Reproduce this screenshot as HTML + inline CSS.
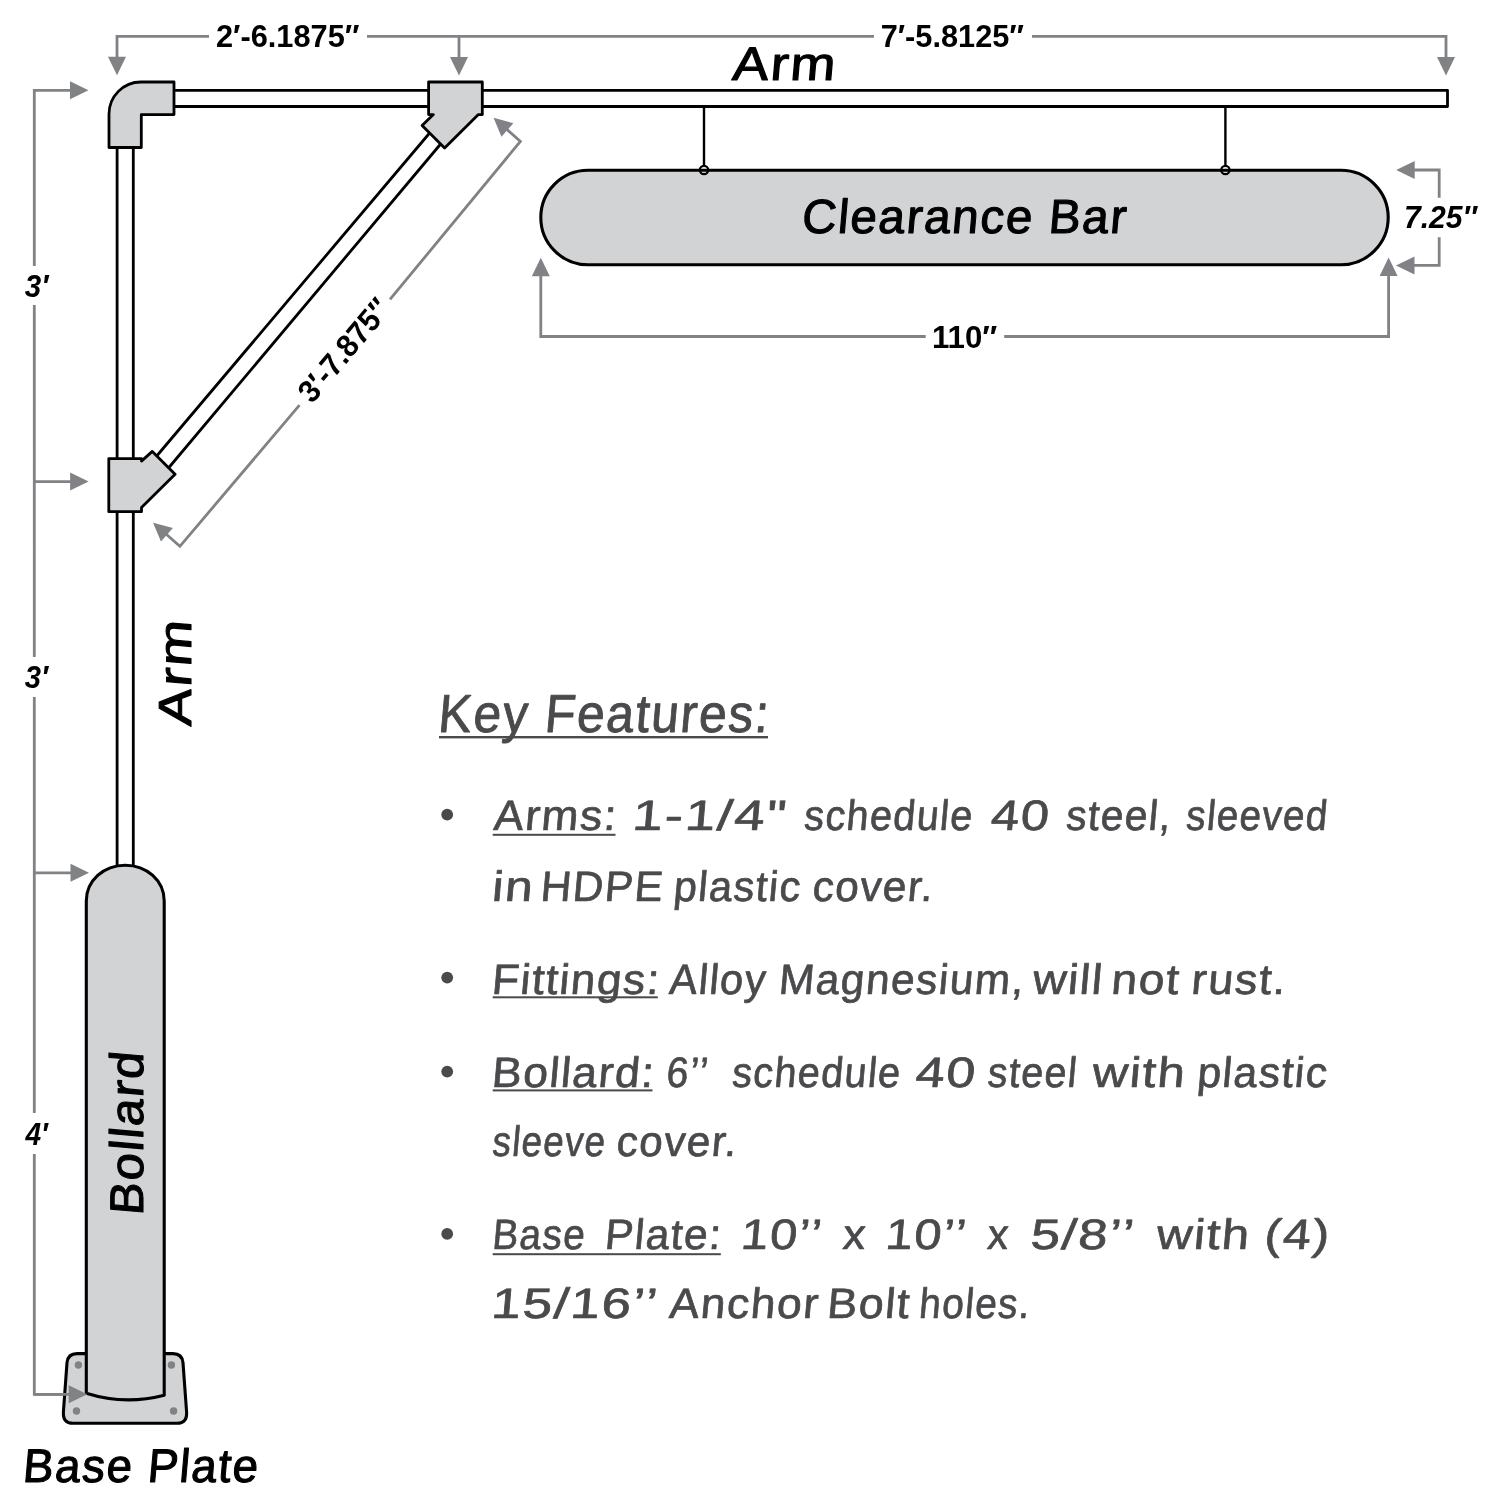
<!DOCTYPE html>
<html><head><meta charset="utf-8"><style>
html,body{margin:0;padding:0;background:#fff;}
svg{display:block;will-change:transform;font-family:"Liberation Sans", sans-serif;}
</style></head><body>
<svg width="1500" height="1500" viewBox="0 0 1500 1500">
<rect width="1500" height="1500" fill="#fff"/>
<path d="M117 58 V36.3 H209 M367 36.3 H874 M1032 36.3 H1446 V58 M459 36.3 V58M72 90.3 H34.3 V266 M34.3 305 V657 M34.3 697 V1113 M34.3 1154 V1394.3 H70 M34.3 481.6 H72 M34.3 872.8 H72M540.8 275 V336.5 H925.7 M1004.2 336.5 H1388.6 V275M1413 170 H1439.2 V197.7 M1439.2 237.2 V265.4 H1413M506 128.6 L520.4 141.4 L390 299.4 M299.5 405.2 L179.9 546.3 L166 534" stroke="#808285" stroke-width="2.8" fill="none"/>
<polygon points="0,0 -18.5,-9.0 -18.5,9.0" fill="#808285" transform="translate(117.00,75.30) rotate(90.000)"/><polygon points="0,0 -18.5,-9.0 -18.5,9.0" fill="#808285" transform="translate(459.00,75.50) rotate(90.000)"/><polygon points="0,0 -18.5,-9.0 -18.5,9.0" fill="#808285" transform="translate(1446.00,75.50) rotate(90.000)"/><polygon points="0,0 -18.5,-9.0 -18.5,9.0" fill="#808285" transform="translate(88.50,90.30) rotate(0.000)"/><polygon points="0,0 -18.5,-9.0 -18.5,9.0" fill="#808285" transform="translate(88.60,481.60) rotate(0.000)"/><polygon points="0,0 -18.5,-9.0 -18.5,9.0" fill="#808285" transform="translate(89.00,872.80) rotate(0.000)"/><polygon points="0,0 -18.5,-9.0 -18.5,9.0" fill="#808285" transform="translate(87.20,1394.30) rotate(0.000)"/><polygon points="0,0 -18.5,-9.0 -18.5,9.0" fill="#808285" transform="translate(540.80,257.80) rotate(-90.000)"/><polygon points="0,0 -18.5,-9.0 -18.5,9.0" fill="#808285" transform="translate(1388.60,257.50) rotate(-90.000)"/><polygon points="0,0 -18.5,-9.0 -18.5,9.0" fill="#808285" transform="translate(1396.20,170.00) rotate(180.000)"/><polygon points="0,0 -18.5,-9.0 -18.5,9.0" fill="#808285" transform="translate(1396.00,265.40) rotate(180.000)"/><polygon points="0,0 -18.5,-9.0 -18.5,9.0" fill="#808285" transform="translate(493.55,117.74) rotate(-138.613)"/><polygon points="0,0 -18.5,-9.0 -18.5,9.0" fill="#808285" transform="translate(153.05,522.64) rotate(-138.613)"/>
<path d="M170 90.3 H1447.5 V106.5 H170" stroke="#000" stroke-width="2.8" fill="none" stroke-linejoin="round"/>
<path d="M117.1 140 V870 M133.3 140 V870" stroke="#000" stroke-width="2.8" fill="none"/>
<path d="M433 129 L156.7 456 M444 140 L168.5 468" stroke="#000" stroke-width="2.8" fill="none"/>
<path d="M704 106.5 V166 M1225.4 106.5 V166" stroke="#000" stroke-width="2.4" fill="none"/>
<rect x="540.8" y="170.3" width="847.4" height="94.5" rx="47.25" fill="#d1d3d4" stroke="#000" stroke-width="3.1"/>
<circle cx="704" cy="170" r="4.2" fill="none" stroke="#000" stroke-width="2.2"/>
<circle cx="1225.4" cy="170" r="4.2" fill="none" stroke="#000" stroke-width="2.2"/>
<path d="M109 147.5 V114 A32 32 0 0 1 141 82 H174 V114.6 H141.3 V147.5 Z" fill="#d1d3d4" stroke="#000" stroke-width="2.8" stroke-linejoin="round"/>
<path d="M428.6 82 H482.3 V114.6 H478.4 L444.6 148 L422.1 125.4 L433.4 114.6 H428.6 Z" fill="#d1d3d4" stroke="#000" stroke-width="2.8" stroke-linejoin="round"/>
<path d="M108.8 458.6 H141.5 V461.1 L152.3 451.4 L175.1 474.2 L141.5 507.5 V511.7 H108.8 Z" fill="#d1d3d4" stroke="#000" stroke-width="2.8" stroke-linejoin="round"/>
<path d="M77 1353.6 H173 Q182 1353.6 183 1362.6 L186.6 1412 Q187.3 1423.3 177 1423.3 H73 Q62.7 1423.3 63.4 1412 L67 1362.6 Q68 1353.6 77 1353.6 Z" fill="#d1d3d4" stroke="#000" stroke-width="3.1" stroke-linejoin="round"/>
<circle cx="78.4" cy="1365" r="3.7" fill="#808285"/>
<circle cx="171.4" cy="1365" r="3.7" fill="#808285"/>
<circle cx="76.5" cy="1411" r="3.7" fill="#808285"/>
<circle cx="173.6" cy="1411" r="3.7" fill="#808285"/>
<path d="M86.3 1393.3 V901 C86.3 880.6 103.7 865.2 125.2 865.2 C146.7 865.2 164.2 880.6 164.2 901 V1395.2 Q125 1405.5 86.3 1393.3 Z" fill="#d1d3d4" stroke="#000" stroke-width="3.1" stroke-linejoin="round"/>
<polygon points="0,0 -18.5,-9.0 -18.5,9.0" fill="#808285" transform="translate(87.20,1394.30) rotate(0.000)"/>
<path d="M34.3 1394.3 H70" stroke="#808285" stroke-width="2.8"/>
<text x="215.92" y="47.00" font-size="31.29" font-weight="bold" font-style="normal" textLength="143.59" lengthAdjust="spacingAndGlyphs" fill="#000" >2′-6.1875″</text><text x="880.67" y="47.30" font-size="31.29" font-weight="bold" font-style="normal" textLength="143.44" lengthAdjust="spacingAndGlyphs" fill="#000" >7′-5.8125″</text><text x="931.92" y="348.00" font-size="31.29" font-weight="bold" font-style="normal" textLength="65.42" lengthAdjust="spacingAndGlyphs" fill="#000" >110″</text><text x="1403.89" y="228.00" font-size="31.29" font-weight="bold" font-style="italic" textLength="73.06" lengthAdjust="spacingAndGlyphs" fill="#000" >7.25″</text><text x="24.80" y="296.70" font-size="30.57" font-weight="bold" font-style="italic" textLength="23.59" lengthAdjust="spacingAndGlyphs" fill="#000" >3′</text><text x="24.71" y="688.30" font-size="31.43" font-weight="bold" font-style="italic" textLength="23.30" lengthAdjust="spacingAndGlyphs" fill="#000" >3′</text><text x="25.42" y="1144.80" font-size="31.43" font-weight="bold" font-style="italic" textLength="22.42" lengthAdjust="spacingAndGlyphs" fill="#000" >4′</text><g transform="translate(344.7,350.3) rotate(-49.938)"><text x="-62.25" y="10.00" font-size="31.43" font-weight="bold" font-style="normal" textLength="123.87" lengthAdjust="spacingAndGlyphs" fill="#000" >3′-7.875″</text></g><text x="731.54" y="80.50" font-size="47.03" font-weight="normal" font-style="normal" textLength="104.74" lengthAdjust="spacingAndGlyphs" fill="#000" stroke="#000" stroke-width="1.1" stroke-linejoin="round" transform="translate(731.54,80.50) skewX(-5) translate(-731.54,-80.50)" letter-spacing="1.646" >Arm</text><text x="800.91" y="233.30" font-size="47.79" font-weight="normal" font-style="normal" textLength="325.81" lengthAdjust="spacingAndGlyphs" fill="#000" stroke="#000" stroke-width="1.1" stroke-linejoin="round" transform="translate(800.91,233.30) skewX(-5) translate(-800.91,-233.30)" letter-spacing="1.673" >Clearance Bar</text><text x="22.09" y="1482.00" font-size="47.03" font-weight="normal" font-style="normal" textLength="236.43" lengthAdjust="spacingAndGlyphs" fill="#000" stroke="#000" stroke-width="1.1" stroke-linejoin="round" transform="translate(22.09,1482.00) skewX(-5) translate(-22.09,-1482.00)" letter-spacing="1.646" >Base Plate</text><g transform="translate(143,1212.5) rotate(-90)"><text x="-3.39" y="0.00" font-size="47.03" font-weight="normal" font-style="normal" textLength="164.92" lengthAdjust="spacingAndGlyphs" fill="#000" stroke="#000" stroke-width="1.1" stroke-linejoin="round" transform="translate(-3.39,0.00) skewX(-5) translate(3.39,0.00)" letter-spacing="1.646" >Bollard</text></g><g transform="translate(190.5,727) rotate(-90)"><text x="0.54" y="0.00" font-size="46.30" font-weight="normal" font-style="normal" textLength="107.40" lengthAdjust="spacingAndGlyphs" fill="#000" stroke="#000" stroke-width="1.1" stroke-linejoin="round" transform="translate(0.54,0.00) skewX(-5) translate(-0.54,0.00)" letter-spacing="1.621" >Arm</text></g><text x="437.26" y="732.30" font-size="53.41" font-weight="normal" font-style="normal" textLength="331.89" lengthAdjust="spacingAndGlyphs" fill="#4a494c" stroke="#4a494c" stroke-width="0.9" stroke-linejoin="round" transform="translate(437.26,732.30) skewX(-5) translate(-437.26,-732.30)" letter-spacing="1.869" >Key Features:</text><rect x="439" y="736" width="329" height="2.4" fill="#4a494c"/><text x="493.04" y="830.10" font-size="42.54" font-weight="normal" font-style="normal" textLength="123.53" lengthAdjust="spacingAndGlyphs" fill="#4a494c" stroke="#4a494c" stroke-width="0.7" stroke-linejoin="round" transform="translate(493.04,830.10) skewX(-5) translate(-493.04,-830.10)" letter-spacing="1.489" >Arms:</text><text x="631.55" y="830.10" font-size="42.54" font-weight="normal" font-style="normal" textLength="155.31" lengthAdjust="spacingAndGlyphs" fill="#4a494c" stroke="#4a494c" stroke-width="0.7" stroke-linejoin="round" transform="translate(631.55,830.10) skewX(-5) translate(-631.55,-830.10)" letter-spacing="1.489" >1-1/4"</text><text x="803.26" y="830.10" font-size="42.54" font-weight="normal" font-style="normal" textLength="169.35" lengthAdjust="spacingAndGlyphs" fill="#4a494c" stroke="#4a494c" stroke-width="0.7" stroke-linejoin="round" transform="translate(803.26,830.10) skewX(-5) translate(-803.26,-830.10)" letter-spacing="1.489" >schedule</text><text x="989.94" y="830.10" font-size="42.54" font-weight="normal" font-style="normal" textLength="59.69" lengthAdjust="spacingAndGlyphs" fill="#4a494c" stroke="#4a494c" stroke-width="0.7" stroke-linejoin="round" transform="translate(989.94,830.10) skewX(-5) translate(-989.94,-830.10)" letter-spacing="1.489" >40</text><text x="1065.23" y="830.10" font-size="42.54" font-weight="normal" font-style="normal" textLength="105.83" lengthAdjust="spacingAndGlyphs" fill="#4a494c" stroke="#4a494c" stroke-width="0.7" stroke-linejoin="round" transform="translate(1065.23,830.10) skewX(-5) translate(-1065.23,-830.10)" letter-spacing="1.489" >steel,</text><text x="1185.29" y="830.10" font-size="42.54" font-weight="normal" font-style="normal" textLength="142.19" lengthAdjust="spacingAndGlyphs" fill="#4a494c" stroke="#4a494c" stroke-width="0.7" stroke-linejoin="round" transform="translate(1185.29,830.10) skewX(-5) translate(-1185.29,-830.10)" letter-spacing="1.489" >sleeved</text><text x="491.30" y="900.70" font-size="42.54" font-weight="normal" font-style="normal" textLength="42.28" lengthAdjust="spacingAndGlyphs" fill="#4a494c" stroke="#4a494c" stroke-width="0.7" stroke-linejoin="round" transform="translate(491.30,900.70) skewX(-5) translate(-491.30,-900.70)" letter-spacing="1.489" >in</text><text x="539.76" y="900.70" font-size="42.54" font-weight="normal" font-style="normal" textLength="123.40" lengthAdjust="spacingAndGlyphs" fill="#4a494c" stroke="#4a494c" stroke-width="0.7" stroke-linejoin="round" transform="translate(539.76,900.70) skewX(-5) translate(-539.76,-900.70)" letter-spacing="1.489" >HDPE</text><text x="672.82" y="900.70" font-size="42.54" font-weight="normal" font-style="normal" textLength="127.83" lengthAdjust="spacingAndGlyphs" fill="#4a494c" stroke="#4a494c" stroke-width="0.7" stroke-linejoin="round" transform="translate(672.82,900.70) skewX(-5) translate(-672.82,-900.70)" letter-spacing="1.489" >plastic</text><text x="811.64" y="900.70" font-size="42.54" font-weight="normal" font-style="normal" textLength="121.64" lengthAdjust="spacingAndGlyphs" fill="#4a494c" stroke="#4a494c" stroke-width="0.7" stroke-linejoin="round" transform="translate(811.64,900.70) skewX(-5) translate(-811.64,-900.70)" letter-spacing="1.489" >cover.</text><text x="491.01" y="993.90" font-size="42.54" font-weight="normal" font-style="normal" textLength="168.55" lengthAdjust="spacingAndGlyphs" fill="#4a494c" stroke="#4a494c" stroke-width="0.7" stroke-linejoin="round" transform="translate(491.01,993.90) skewX(-5) translate(-491.01,-993.90)" letter-spacing="1.489" >Fittings:</text><text x="668.54" y="993.90" font-size="42.54" font-weight="normal" font-style="normal" textLength="97.40" lengthAdjust="spacingAndGlyphs" fill="#4a494c" stroke="#4a494c" stroke-width="0.7" stroke-linejoin="round" transform="translate(668.54,993.90) skewX(-5) translate(-668.54,-993.90)" letter-spacing="1.489" >Alloy</text><text x="777.95" y="993.90" font-size="42.54" font-weight="normal" font-style="normal" textLength="246.00" lengthAdjust="spacingAndGlyphs" fill="#4a494c" stroke="#4a494c" stroke-width="0.7" stroke-linejoin="round" transform="translate(777.95,993.90) skewX(-5) translate(-777.95,-993.90)" letter-spacing="1.489" >Magnesium,</text><text x="1032.02" y="993.90" font-size="42.54" font-weight="normal" font-style="normal" textLength="70.63" lengthAdjust="spacingAndGlyphs" fill="#4a494c" stroke="#4a494c" stroke-width="0.7" stroke-linejoin="round" transform="translate(1032.02,993.90) skewX(-5) translate(-1032.02,-993.90)" letter-spacing="1.489" >will</text><text x="1110.61" y="993.90" font-size="42.54" font-weight="normal" font-style="normal" textLength="68.91" lengthAdjust="spacingAndGlyphs" fill="#4a494c" stroke="#4a494c" stroke-width="0.7" stroke-linejoin="round" transform="translate(1110.61,993.90) skewX(-5) translate(-1110.61,-993.90)" letter-spacing="1.489" >not</text><text x="1190.58" y="993.90" font-size="42.54" font-weight="normal" font-style="normal" textLength="95.64" lengthAdjust="spacingAndGlyphs" fill="#4a494c" stroke="#4a494c" stroke-width="0.7" stroke-linejoin="round" transform="translate(1190.58,993.90) skewX(-5) translate(-1190.58,-993.90)" letter-spacing="1.489" >rust.</text><text x="490.98" y="1086.70" font-size="42.54" font-weight="normal" font-style="normal" textLength="163.19" lengthAdjust="spacingAndGlyphs" fill="#4a494c" stroke="#4a494c" stroke-width="0.7" stroke-linejoin="round" transform="translate(490.98,1086.70) skewX(-5) translate(-490.98,-1086.70)" letter-spacing="1.489" >Bollard:</text><text x="665.58" y="1086.70" font-size="42.54" font-weight="normal" font-style="normal" textLength="42.64" lengthAdjust="spacingAndGlyphs" fill="#4a494c" stroke="#4a494c" stroke-width="0.7" stroke-linejoin="round" transform="translate(665.58,1086.70) skewX(-5) translate(-665.58,-1086.70)" letter-spacing="1.489" >6’’</text><text x="731.16" y="1086.70" font-size="42.54" font-weight="normal" font-style="normal" textLength="169.35" lengthAdjust="spacingAndGlyphs" fill="#4a494c" stroke="#4a494c" stroke-width="0.7" stroke-linejoin="round" transform="translate(731.16,1086.70) skewX(-5) translate(-731.16,-1086.70)" letter-spacing="1.489" >schedule</text><text x="914.71" y="1086.70" font-size="42.54" font-weight="normal" font-style="normal" textLength="61.33" lengthAdjust="spacingAndGlyphs" fill="#4a494c" stroke="#4a494c" stroke-width="0.7" stroke-linejoin="round" transform="translate(914.71,1086.70) skewX(-5) translate(-914.71,-1086.70)" letter-spacing="1.489" >40</text><text x="986.87" y="1086.70" font-size="42.54" font-weight="normal" font-style="normal" textLength="90.02" lengthAdjust="spacingAndGlyphs" fill="#4a494c" stroke="#4a494c" stroke-width="0.7" stroke-linejoin="round" transform="translate(986.87,1086.70) skewX(-5) translate(-986.87,-1086.70)" letter-spacing="1.489" >steel</text><text x="1091.52" y="1086.70" font-size="42.54" font-weight="normal" font-style="normal" textLength="94.08" lengthAdjust="spacingAndGlyphs" fill="#4a494c" stroke="#4a494c" stroke-width="0.7" stroke-linejoin="round" transform="translate(1091.52,1086.70) skewX(-5) translate(-1091.52,-1086.70)" letter-spacing="1.489" >with</text><text x="1196.46" y="1086.70" font-size="42.54" font-weight="normal" font-style="normal" textLength="131.06" lengthAdjust="spacingAndGlyphs" fill="#4a494c" stroke="#4a494c" stroke-width="0.7" stroke-linejoin="round" transform="translate(1196.46,1086.70) skewX(-5) translate(-1196.46,-1086.70)" letter-spacing="1.489" >plastic</text><text x="491.55" y="1156.20" font-size="42.54" font-weight="normal" font-style="normal" textLength="113.74" lengthAdjust="spacingAndGlyphs" fill="#4a494c" stroke="#4a494c" stroke-width="0.7" stroke-linejoin="round" transform="translate(491.55,1156.20) skewX(-5) translate(-491.55,-1156.20)" letter-spacing="1.489" >sleeve</text><text x="615.74" y="1156.20" font-size="42.54" font-weight="normal" font-style="normal" textLength="121.32" lengthAdjust="spacingAndGlyphs" fill="#4a494c" stroke="#4a494c" stroke-width="0.7" stroke-linejoin="round" transform="translate(615.74,1156.20) skewX(-5) translate(-615.74,-1156.20)" letter-spacing="1.489" >cover.</text><text x="491.44" y="1249.50" font-size="42.54" font-weight="normal" font-style="normal" textLength="93.66" lengthAdjust="spacingAndGlyphs" fill="#4a494c" stroke="#4a494c" stroke-width="0.7" stroke-linejoin="round" transform="translate(491.44,1249.50) skewX(-5) translate(-491.44,-1249.50)" letter-spacing="1.489" >Base</text><text x="603.95" y="1249.50" font-size="42.54" font-weight="normal" font-style="normal" textLength="117.44" lengthAdjust="spacingAndGlyphs" fill="#4a494c" stroke="#4a494c" stroke-width="0.7" stroke-linejoin="round" transform="translate(603.95,1249.50) skewX(-5) translate(-603.95,-1249.50)" letter-spacing="1.489" >Plate:</text><text x="740.08" y="1249.50" font-size="42.54" font-weight="normal" font-style="normal" textLength="82.04" lengthAdjust="spacingAndGlyphs" fill="#4a494c" stroke="#4a494c" stroke-width="0.7" stroke-linejoin="round" transform="translate(740.08,1249.50) skewX(-5) translate(-740.08,-1249.50)" letter-spacing="1.489" >10’’</text><text x="841.99" y="1249.50" font-size="42.54" font-weight="normal" font-style="normal" textLength="23.98" lengthAdjust="spacingAndGlyphs" fill="#4a494c" stroke="#4a494c" stroke-width="0.7" stroke-linejoin="round" transform="translate(841.99,1249.50) skewX(-5) translate(-841.99,-1249.50)" letter-spacing="1.489" >x</text><text x="884.48" y="1249.50" font-size="42.54" font-weight="normal" font-style="normal" textLength="82.04" lengthAdjust="spacingAndGlyphs" fill="#4a494c" stroke="#4a494c" stroke-width="0.7" stroke-linejoin="round" transform="translate(884.48,1249.50) skewX(-5) translate(-884.48,-1249.50)" letter-spacing="1.489" >10’’</text><text x="986.42" y="1249.50" font-size="42.54" font-weight="normal" font-style="normal" textLength="22.26" lengthAdjust="spacingAndGlyphs" fill="#4a494c" stroke="#4a494c" stroke-width="0.7" stroke-linejoin="round" transform="translate(986.42,1249.50) skewX(-5) translate(-986.42,-1249.50)" letter-spacing="1.489" >x</text><text x="1029.72" y="1249.50" font-size="42.54" font-weight="normal" font-style="normal" textLength="104.75" lengthAdjust="spacingAndGlyphs" fill="#4a494c" stroke="#4a494c" stroke-width="0.7" stroke-linejoin="round" transform="translate(1029.72,1249.50) skewX(-5) translate(-1029.72,-1249.50)" letter-spacing="1.489" >5/8’’</text><text x="1155.72" y="1249.50" font-size="42.54" font-weight="normal" font-style="normal" textLength="94.18" lengthAdjust="spacingAndGlyphs" fill="#4a494c" stroke="#4a494c" stroke-width="0.7" stroke-linejoin="round" transform="translate(1155.72,1249.50) skewX(-5) translate(-1155.72,-1249.50)" letter-spacing="1.489" >with</text><text x="1263.54" y="1249.50" font-size="42.54" font-weight="normal" font-style="normal" textLength="66.31" lengthAdjust="spacingAndGlyphs" fill="#4a494c" stroke="#4a494c" stroke-width="0.7" stroke-linejoin="round" transform="translate(1263.54,1249.50) skewX(-5) translate(-1263.54,-1249.50)" letter-spacing="1.489" >(4)</text><text x="490.59" y="1318.50" font-size="42.54" font-weight="normal" font-style="normal" textLength="167.31" lengthAdjust="spacingAndGlyphs" fill="#4a494c" stroke="#4a494c" stroke-width="0.7" stroke-linejoin="round" transform="translate(490.59,1318.50) skewX(-5) translate(-490.59,-1318.50)" letter-spacing="1.489" >15/16’’</text><text x="668.54" y="1318.50" font-size="42.54" font-weight="normal" font-style="normal" textLength="150.11" lengthAdjust="spacingAndGlyphs" fill="#4a494c" stroke="#4a494c" stroke-width="0.7" stroke-linejoin="round" transform="translate(668.54,1318.50) skewX(-5) translate(-668.54,-1318.50)" letter-spacing="1.489" >Anchor</text><text x="826.35" y="1318.50" font-size="42.54" font-weight="normal" font-style="normal" textLength="83.52" lengthAdjust="spacingAndGlyphs" fill="#4a494c" stroke="#4a494c" stroke-width="0.7" stroke-linejoin="round" transform="translate(826.35,1318.50) skewX(-5) translate(-826.35,-1318.50)" letter-spacing="1.489" >Bolt</text><text x="918.33" y="1318.50" font-size="42.54" font-weight="normal" font-style="normal" textLength="111.63" lengthAdjust="spacingAndGlyphs" fill="#4a494c" stroke="#4a494c" stroke-width="0.7" stroke-linejoin="round" transform="translate(918.33,1318.50) skewX(-5) translate(-918.33,-1318.50)" letter-spacing="1.489" >holes.</text><rect x="492.7" y="833.8" width="122.80000000000001" height="2.0" fill="#4a494c"/><rect x="492.7" y="996.3" width="165.09999999999997" height="2.0" fill="#4a494c"/><rect x="492.7" y="1089.4" width="159.8" height="2.0" fill="#4a494c"/><rect x="492.7" y="1253.2" width="228.09999999999997" height="2.0" fill="#4a494c"/><circle cx="447.2" cy="814.6" r="5.9" fill="#4a494c"/><circle cx="447.2" cy="977.6" r="5.9" fill="#4a494c"/><circle cx="447.2" cy="1071.6" r="5.9" fill="#4a494c"/><circle cx="447.2" cy="1233.9" r="5.9" fill="#4a494c"/>
</svg>
</body></html>
